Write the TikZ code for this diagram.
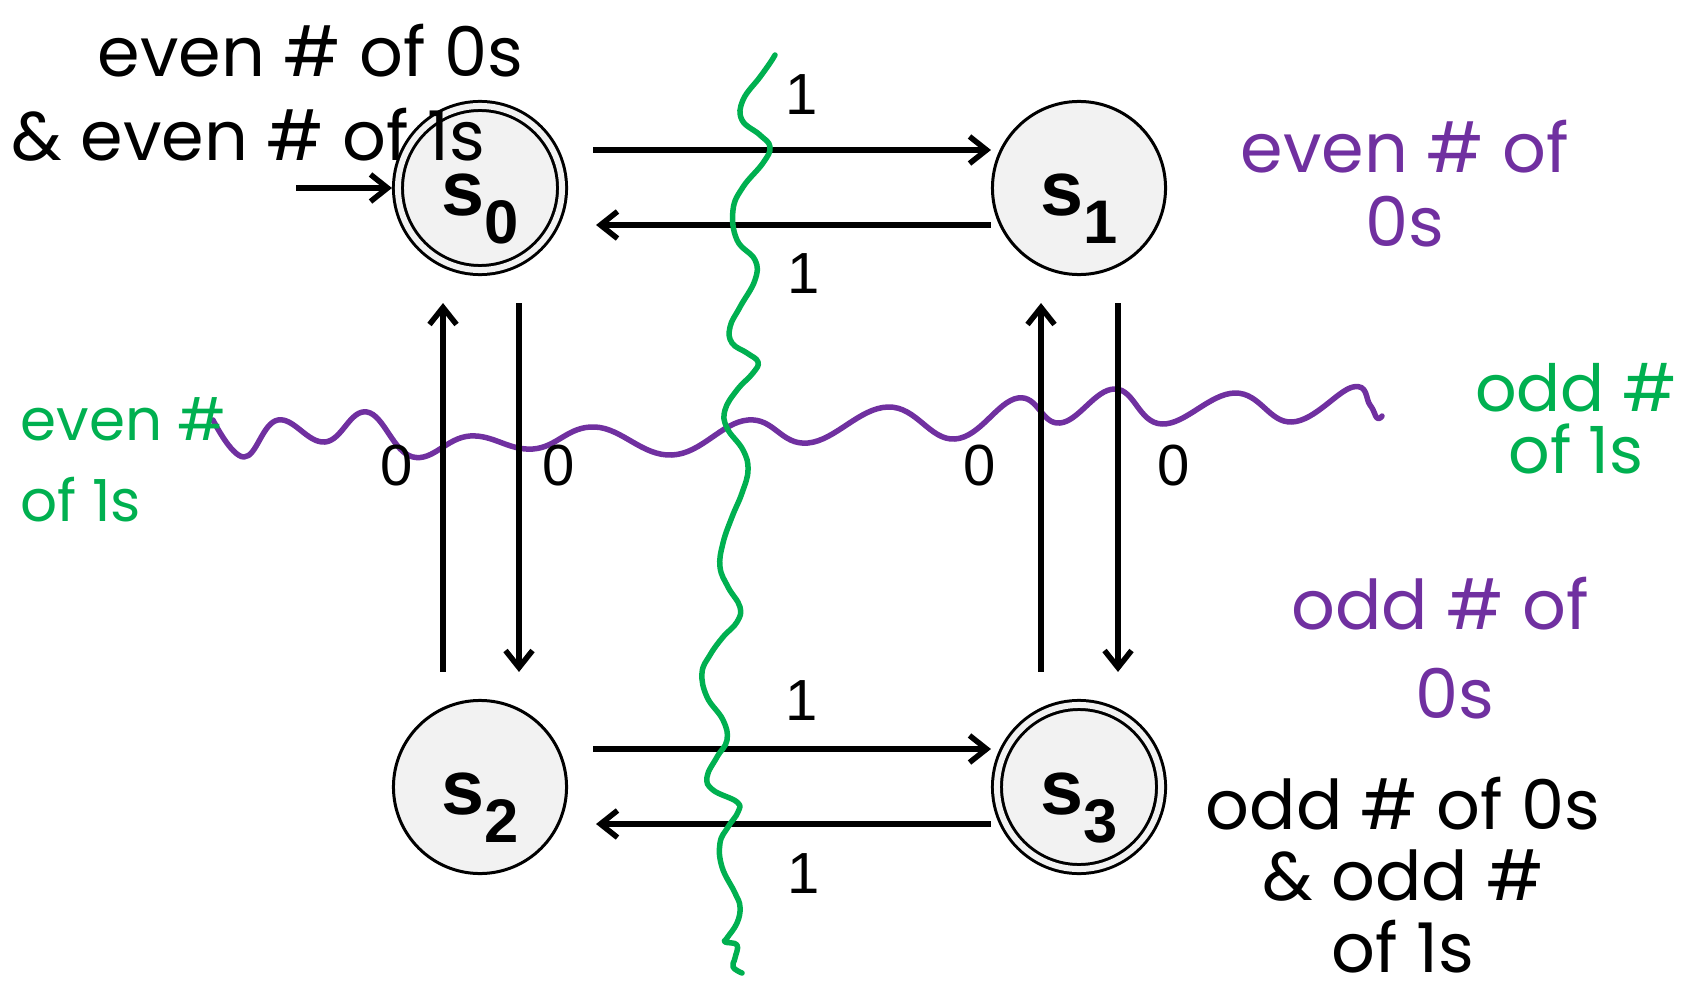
\documentclass[tikz,border=0pt]{standalone}
\usepackage{fontspec}
\setmainfont{Liberation Sans}
\newfontfamily\handfont{Poppins}
\usetikzlibrary{arrows.meta}

\definecolor{stategray}{RGB}{242,242,242}
\definecolor{notepurple}{RGB}{112,48,160}
\definecolor{notegreen}{RGB}{0,176,80}

\newcommand{\statename}[1]{s\raisebox{-0.28cm}{\fontsize{17.5}{19}\selectfont #1}}

\begin{document}
\begin{tikzpicture}[
    x=0.01cm, y=-0.01cm,
    state/.style={
        circle,
        draw=black,
        line width=0.03cm,
        fill=stategray,
        minimum size=1.73cm,
        inner sep=0pt,
        text height=0.54cm,
        text depth=0pt,
        font=\fontsize{22}{24}\selectfont\bfseries
    },
    accepting/.style={
        state,
        double=stategray,
        double distance=0.06cm,
        minimum size=1.64cm,
        outer sep=0.06cm
    },
    arrow/.style={line width=0.055cm, -{Straight Barb[length=0.17cm, width=0.27cm]}},
    lbl/.style={inner sep=0pt, font=\fontsize{16.5}{18}\selectfont},
    note/.style={inner sep=0pt, font=\handfont\fontsize{19.5}{#1}\selectfont},
    wave/.style={line width=0.055cm, line cap=round, line join=round}
]
\useasboundingbox (0,0) rectangle (1685,985);

% purple cut: parity of 0s
\draw[wave, notepurple] plot[smooth, tension=0.7] coordinates {
    (213,420) (244,457) (278,420) (325,442) (367,412) (413,457) (470,436)
    (533,449) (595,427) (672,455) (748,420) (808,443) (888,407) (955,439)
    (1018,398) (1060,423) (1115,389) (1162,424) (1235,393) (1292,422)
    (1353,387) (1370,405) (1377,418) (1382,416)};

% states
\node[accepting] (s0) at (480,188) {\statename{0}};
\node[state] (s1) at (1079,188) {\statename{1}};
\node[state] (s2) at (480,787) {\statename{2}};
\node[accepting] (s3) at (1079,787) {\statename{3}};

\coordinate (start) at (296,188);
\draw[arrow] (start) -- (s0.west);

% transitions on 1
\draw[arrow] ([shift={(25,-38)}]s0.east) -- node[lbl, above=0.33cm, xshift=0.1cm] {1} ([shift={(0,-38)}]s1.west);
\draw[arrow] ([shift={(0,37)}]s1.west) -- node[lbl, below=0.26cm, xshift=0.1cm] {1} ([shift={(28,37)}]s0.east);
\draw[arrow] ([shift={(25,-38)}]s2.east) -- node[lbl, above=0.26cm, xshift=0.1cm] {1} ([shift={(0,-38)}]s3.west);
\draw[arrow] ([shift={(0,37)}]s3.west) -- node[lbl, below=0.27cm, xshift=0.1cm] {1} ([shift={(28,37)}]s2.east);

% transitions on 0
\draw[arrow] ([shift={(-37,-27)}]s2.north) -- node[lbl, pos=0.56, left=0.27cm] {0} ([shift={(-37,27)}]s0.south);
\draw[arrow] ([shift={(39,27)}]s0.south) -- node[lbl, pos=0.44, right=0.21cm] {0} ([shift={(39,-27)}]s2.north);
\draw[arrow] ([shift={(-38,-27)}]s3.north) -- node[lbl, pos=0.56, left=0.42cm] {0} ([shift={(-38,27)}]s1.south);
\draw[arrow] ([shift={(39,27)}]s1.south) -- node[lbl, pos=0.44, right=0.37cm] {0} ([shift={(39,-27)}]s3.north);

% green cut: parity of 1s
\draw[wave, notegreen] plot[smooth, tension=0.7] coordinates {
    (775,55) (770,63) (760,77) (743,100) (742,120) (760,135) (770,147)
    (763,163) (743,187) (733,210) (737,240) (755,260) (755,280) (740,307)
    (730,327) (732,343) (747,353) (758,362) (753,373) (737,390) (725,410)
    (727,428) (743,450) (748,470) (742,493) (732,517) (723,543) (720,567)
    (728,587) (740,607) (737,622) (723,637) (710,655) (702,673) (707,697)
    (723,720) (727,740) (717,757) (707,777) (713,790) (737,802) (738,812)
    (728,827) (720,843) (722,867) (735,893) (740,907) (737,923) (727,938)
    (725,942) (737,945) (735,958) (733,967) (742,973)};

% notes
\node[note=23.9pt, anchor=base west, align=left] (evenboth) at (11,161)
    {\hspace*{0.86cm}even \# of 0s\\\& even \# of 1s};
\node[note=21.3pt, anchor=base, align=center, text=notepurple] (evenzero) at (1405,247)
    {even \# of\\0s};
\node[note=23pt, anchor=base west, align=left, text=notegreen, font=\handfont\fontsize{16.5}{23pt}\selectfont] (evenone) at (20,521)
    {even \#\\of 1s};
\node[note=17.5pt, anchor=base, align=center, text=notegreen, font=\handfont\fontsize{18.5}{17.5pt}\selectfont] (oddone) at (1576,473)
    {odd \#\\of 1s};
\node[note=25.3pt, anchor=base, align=center, text=notepurple] (oddzero) at (1440,718)
    {odd \# of\\\hspace*{0.3cm}0s};
\node[note=20.2pt, anchor=base, align=center] (oddboth) at (1403,972)
    {odd \# of 0s\\\& odd \#\\of 1s};

\end{tikzpicture}
\end{document}
